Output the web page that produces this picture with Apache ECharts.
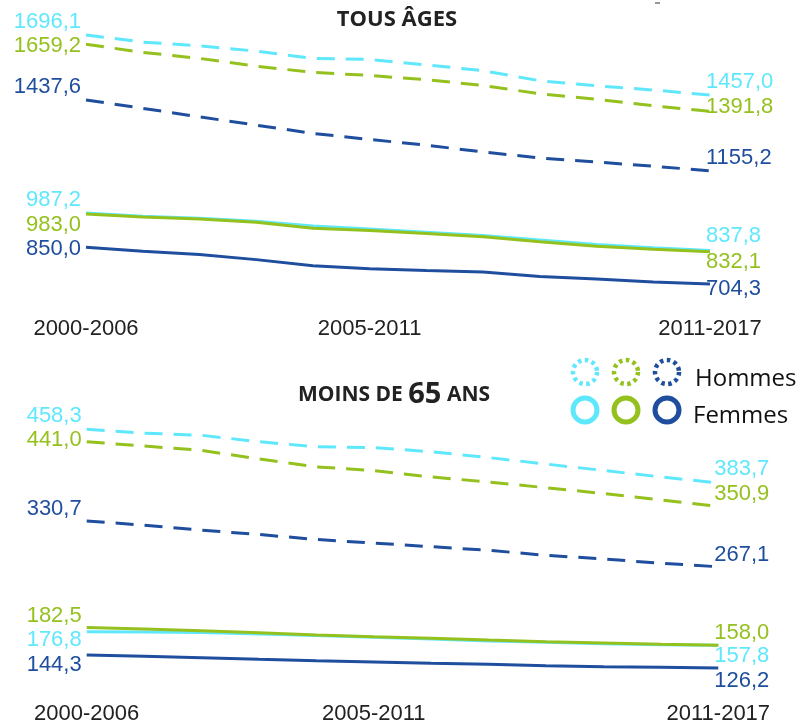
<!DOCTYPE html>
<html>
<head>
<meta charset="utf-8">
<script src="https://cdn.jsdelivr.net/npm/echarts@6/dist/echarts.min.js"></script>
<style>
  html, body { margin: 0; padding: 0; background: #fff; }
  #main { width: 804px; height: 726px; }
</style>
</head>
<body>
<div id="main"></div>
<script>
// périodes glissantes de 7 ans
const periods = ['2000-2006', '2001-2007', '2002-2008', '2003-2009', '2004-2010', '2005-2011',
  '2006-2012', '2007-2013', '2008-2014', '2009-2015', '2010-2016', '2011-2017'];
const shownPeriods = ['2000-2006', '2005-2011', '2011-2017'];

// TOUS ÂGES
const tousHommesCyan = [1696.1, 1668, 1653, 1632, 1603, 1599, 1577, 1554, 1514, 1494, 1477, 1457.0];
const tousHommesVert = [1659.2, 1627, 1603, 1572, 1547, 1535, 1518, 1495, 1462, 1440, 1414, 1391.8];
const tousHommesBleu = [1437.6, 1404, 1370, 1337, 1304, 1280, 1257, 1230, 1206, 1190, 1173, 1155.2];
const tousFemmesCyan = [987.2, 974, 966, 954, 935, 923, 910, 897, 879, 861, 848, 837.8];
const tousFemmesVert = [983.0, 971, 963, 950, 926, 917, 905, 892, 872, 854, 842, 832.1];
const tousFemmesBleu = [850.0, 834, 821, 801, 777, 765, 758, 752, 734, 724, 712, 704.3];

// MOINS DE 65 ANS
const moinsHommesCyan = [458.3, 453, 450, 441, 434, 433, 427, 419, 410, 401, 392, 383.7];
const moinsHommesVert = [441.0, 435, 429, 417, 406, 401, 392, 385, 377, 369, 360, 350.9];
const moinsHommesBleu = [330.7, 325, 318, 312, 305, 300, 295, 290, 283, 278, 272, 267.1];
const moinsFemmesCyan = [176.8, 176.4, 175.5, 173.7, 171.4, 169.2, 166.6, 163.8, 162.0, 160.1, 158.6, 157.8];
const moinsFemmesVert = [182.5, 180.6, 178.2, 175.4, 172.1, 169.7, 167.6, 165.2, 162.9, 161.0, 159.2, 158.0];
const moinsFemmesBleu = [144.3, 142.5, 140.6, 138.4, 136.4, 134.6, 132.8, 131.4, 129.5, 128.1, 127.2, 126.2];

const CYAN = '#5fe8fc';
const VERT = '#95c11f';
const BLEU = '#1f4e9e';
const DASH = [18, 11];

const fmt = v => v.toFixed(1).replace('.', ',');

// étiquettes au début et à la fin de chaque courbe
function withLabels(values, color, startDy, endDy) {
    const last = values.length - 1;
    return values.map((v, i) => {
        if (i === 0) {
            return { value: v, label: { show: true, position: 'left', distance: 5, offset: [0, startDy], color: color } };
        }
        if (i === last) {
            return { value: v, label: { show: true, position: 'right', distance: 0, offset: [-4, endDy], color: color } };
        }
        return v;
    });
}

function line(idx, values, color, dashed, startDy, endDy) {
    return {
        type: 'line',
        xAxisIndex: idx,
        yAxisIndex: idx,
        data: withLabels(values, color, startDy, endDy),
        symbol: 'circle',
        symbolSize: 0,
        showAllSymbol: true,
        lineStyle: { color: color, width: 3, type: dashed ? DASH : 'solid' },
        itemStyle: { color: color },
        label: {
            formatter: p => fmt(p.value),
            fontFamily: 'Liberation Sans',
            fontSize: 22
        },
        emphasis: { disabled: true },
        animation: false
    };
}

const xAxisBase = {
    type: 'category',
    data: periods,
    boundaryGap: false,
    axisLine: { show: false },
    axisTick: { show: false },
    axisLabel: {
        interval: (i, v) => shownPeriods.includes(v),
        margin: 23,
        color: '#222',
        fontFamily: 'Liberation Sans',
        fontSize: 22
    }
};

const myChart = echarts.init(document.getElementById('main'));
const option = {
    backgroundColor: '#fff',
    grid: [
        { left: 86, right: 94, top: 19, height: 276 },
        { left: 86.7, right: 85.7, top: 413.7, height: 266 }
    ],
    xAxis: [
        Object.assign({ gridIndex: 0 }, xAxisBase),
        Object.assign({ gridIndex: 1 }, xAxisBase)
    ],
    yAxis: [
        { type: 'value', gridIndex: 0, min: 660, max: 1760, show: false },
        { type: 'value', gridIndex: 1, min: 110, max: 480, show: false }
    ],
    series: [
        line(0, tousHommesCyan, CYAN, true, -13, -13),
        line(0, tousHommesVert, VERT, true, 2, -4),
        line(0, tousHommesBleu, BLEU, true, -13, -13),
        line(0, tousFemmesCyan, CYAN, false, -13, -14),
        line(0, tousFemmesVert, VERT, false, 11, 10),
        line(0, tousFemmesBleu, BLEU, false, 2, 5),
        line(1, moinsHommesCyan, CYAN, true, -13, -14),
        line(1, moinsHommesVert, VERT, true, -2, -13),
        line(1, moinsHommesBleu, BLEU, true, -12, -12),
        line(1, moinsFemmesCyan, CYAN, false, 8, 11),
        line(1, moinsFemmesVert, VERT, false, -12, -12),
        line(1, moinsFemmesBleu, BLEU, false, 10, 13)
    ],
    graphic: [
        {
            type: 'text', x: 397, y: 20,
            style: { text: 'TOUS ÂGES', font: 'bold 22px "Open Sans"', fill: '#222', align: 'center', verticalAlign: 'middle' }
        },
        {
            type: 'text', x: 394, y: 395,
            style: {
                text: '{s|MOINS DE }{b|65}{s| ANS}',
                align: 'center', verticalAlign: 'middle',
                rich: {
                    s: { fontFamily: 'Open Sans', fontWeight: 'bold', fontSize: 21, fill: '#222' },
                    b: { fontFamily: 'Open Sans', fontWeight: 'bold', fontSize: 29, fill: '#222' }
                }
            }
        },
        // légende
        { type: 'circle', shape: { cx: 585, cy: 372, r: 12 }, style: { fill: 'none', stroke: CYAN, lineWidth: 4.5, lineDash: [3.5, 3.5] } },
        { type: 'circle', shape: { cx: 626, cy: 372, r: 12 }, style: { fill: 'none', stroke: VERT, lineWidth: 4.5, lineDash: [3.5, 3.5] } },
        { type: 'circle', shape: { cx: 667, cy: 372, r: 12 }, style: { fill: 'none', stroke: BLEU, lineWidth: 4.5, lineDash: [3.5, 3.5] } },
        { type: 'circle', shape: { cx: 585, cy: 410, r: 12 }, style: { fill: 'none', stroke: CYAN, lineWidth: 5 } },
        { type: 'circle', shape: { cx: 626, cy: 410, r: 12 }, style: { fill: 'none', stroke: VERT, lineWidth: 5 } },
        { type: 'circle', shape: { cx: 667, cy: 410, r: 12 }, style: { fill: 'none', stroke: BLEU, lineWidth: 5 } },
        {
            type: 'text', x: 695, y: 379,
            style: { text: 'Hommes', font: '24px "Open Sans"', fill: '#111', verticalAlign: 'middle' }
        },
        {
            type: 'text', x: 693, y: 416,
            style: { text: 'Femmes', font: '24px "Open Sans"', fill: '#111', verticalAlign: 'middle' }
        },
        { type: 'line', shape: { x1: 655, y1: 3, x2: 660, y2: 3 }, style: { stroke: '#333', lineWidth: 1 } }
    ]
};
myChart.setOption(option);
</script>
</body>
</html>
